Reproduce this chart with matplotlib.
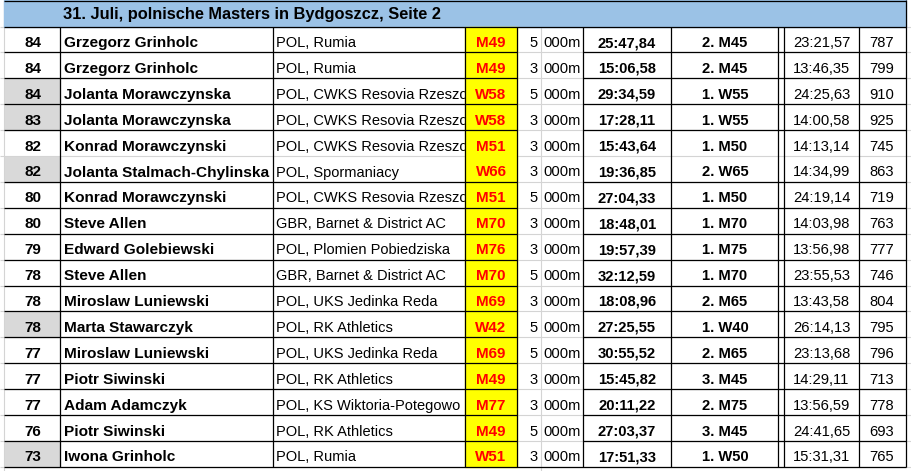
import numpy as np
import matplotlib
matplotlib.use('Agg')
from matplotlib import pyplot as plt
from matplotlib import font_manager
from matplotlib.patches import Rectangle

title = '31. Juli, polnische Masters in Bydgoszcz, Seite 2'
rank = [84, 84, 84, 83, 82, 82, 80, 80, 79, 78, 78, 78, 77, 77, 77, 76, 73]
athletes = ['Grzegorz Grinholc', 'Grzegorz Grinholc', 'Jolanta Morawczynska',
            'Jolanta Morawczynska', 'Konrad Morawczynski', 'Jolanta Stalmach-Chylinska',
            'Konrad Morawczynski', 'Steve Allen', 'Edward Golebiewski', 'Steve Allen',
            'Miroslaw Luniewski', 'Marta Stawarczyk', 'Miroslaw Luniewski',
            'Piotr Siwinski', 'Adam Adamczyk', 'Piotr Siwinski', 'Iwona Grinholc']
clubs = ['POL, Rumia', 'POL, Rumia', 'POL, CWKS Resovia Rzeszow',
         'POL, CWKS Resovia Rzeszow', 'POL, CWKS Resovia Rzeszow', 'POL, Spormaniacy',
         'POL, CWKS Resovia Rzeszow', 'GBR, Barnet & District AC',
         'POL, Plomien Pobiedziska', 'GBR, Barnet & District AC', 'POL, UKS Jedinka Reda',
         'POL, RK Athletics', 'POL, UKS Jedinka Reda', 'POL, RK Athletics',
         'POL, KS Wiktoria-Potegowo', 'POL, RK Athletics', 'POL, Rumia']
cats = ['M49', 'M49', 'W58', 'W58', 'M51', 'W66', 'M51', 'M70', 'M76', 'M70',
        'M69', 'W42', 'M69', 'M49', 'M77', 'M49', 'W51']
dist = [5000, 3000, 5000, 3000, 3000, 3000, 5000, 3000, 3000, 5000,
        3000, 5000, 5000, 3000, 3000, 5000, 3000]
times = ['25:47,84', '15:06,58', '29:34,59', '17:28,11', '15:43,64', '19:36,85',
         '27:04,33', '18:48,01', '19:57,39', '32:12,59', '18:08,96', '27:25,55',
         '30:55,52', '15:45,82', '20:11,22', '27:03,37', '17:51,33']
places = ['2. M45', '2. M45', '1. W55', '1. W55', '1. M50', '2. W65', '1. M50',
          '1. M70', '1. M75', '1. M70', '2. M65', '1. W40', '2. M65', '3. M45',
          '2. M75', '3. M45', '1. W50']
graded = ['23:21,57', '13:46,35', '24:25,63', '14:00,58', '14:13,14', '14:34,99',
          '24:19,14', '14:03,98', '13:56,98', '23:55,53', '13:43,58', '26:14,13',
          '23:13,68', '14:29,11', '13:56,59', '24:41,65', '15:31,31']
points = [787, 799, 910, 925, 745, 863, 719, 763, 777, 746, 804, 795, 796, 713, 778, 693, 765]

# fonts
have = {f.name for f in font_manager.fontManager.ttflist}
if 'Liberation Sans Narrow' in have:
    NUM, NUMSIZE = 'Liberation Sans Narrow', 12.5
else:
    NUM, NUMSIZE = 'Liberation Sans', 10.6
SANS = 'Liberation Sans'

# layout in pixels
W, H = 911, 471
left, right = 4, 906
cols = [60, 273, 465, 517, 583, 671, 778, 784, 859]
top0, rh = 26.5, 25.9
n = len(rank)
ys = top0 + np.arange(n + 1) * rh
grid = '#d4d4d4'
blk = 'black'

fig = plt.figure(figsize=(W / 100, H / 100), dpi=100)
ax = fig.add_axes([0, 0, 1, 1])
ax.set_xlim(0, W)
ax.set_ylim(H, 0)
ax.axis('off')

# sheet gridlines
ax.hlines(ys, 0, W, color=grid, lw=0.8, zorder=1)
ax.vlines([left, 541], 0, H, color=grid, lw=0.8, zorder=1)

# fills (yellow sits above the club text so long clubs get cut off)
ax.add_patch(Rectangle((left, 0), right - left, top0, color='#9bc2e6', zorder=2))
for i in range(n):
    ax.add_patch(Rectangle((465, ys[i]), 52, rh, color='#ffff00', zorder=3.5))
    if cats[i].startswith('W'):
        ax.add_patch(Rectangle((left + 0.5, ys[i] + 0.5), 60 - left - 0.5, rh - 0.5,
                               color='#d9d9d9', zorder=2))

# black borders
ax.hlines(0.5, left, right, color=blk, lw=0.9, zorder=3.8)
for k, y in enumerate(ys):
    if k == 5:
        continue
    if k in (0, n):
        ax.hlines(y, left, right, color=blk, lw=0.9, zorder=3.8)
    else:
        ax.hlines(y, left, 517, color=blk, lw=0.9, zorder=3.8)
        ax.hlines(y, 583, right, color=blk, lw=0.9, zorder=3.8)
ax.vlines(cols, ys[0], ys[-1], color=blk, lw=0.9, zorder=3.8)
ax.vlines(right, 0, ys[-1], color=blk, lw=0.9, zorder=3.8)

# title
ax.text(63, 19, title, fontsize=11.8, fontweight='bold', family=SANS, va='baseline', zorder=4)

for i in range(n):
    b = ys[i] + 20.5
    ax.text(33, b, str(rank[i]), ha='center', va='baseline', fontsize=11,
            fontweight='bold', family=NUM, zorder=4)
    ax.text(64, b, athletes[i], ha='left', va='baseline', fontsize=11.1,
            fontweight='bold', family=SANS, zorder=4)
    ax.text(276, b, clubs[i], ha='left', va='baseline', fontsize=10.5,
            family=SANS, zorder=3.2)
    ax.text(491, b, cats[i], ha='center', va='baseline', fontsize=NUMSIZE + 0.3,
            fontweight='bold', color='#ff0000', family=NUM, zorder=4)
    ax.text(538, b, str(dist[i] // 1000), ha='right', va='baseline', fontsize=NUMSIZE,
            family=NUM, zorder=4)
    ax.text(543, b, '000m', ha='left', va='baseline', fontsize=NUMSIZE,
            family=NUM, zorder=4)
    ax.text(627, b, times[i], ha='center', va='baseline', fontsize=NUMSIZE,
            fontweight='bold', family=NUM, zorder=4)
    ax.text(725, b, places[i], ha='center', va='baseline', fontsize=NUMSIZE,
            fontweight='bold', family=NUM, zorder=4)
    ax.text(821.5, b, graded[i], ha='center', va='baseline', fontsize=NUMSIZE,
            family=NUM, zorder=4)
    ax.text(882, b, str(points[i]), ha='center', va='baseline', fontsize=NUMSIZE,
            family=NUM, zorder=4)

fig.savefig('out.png', dpi=100)
